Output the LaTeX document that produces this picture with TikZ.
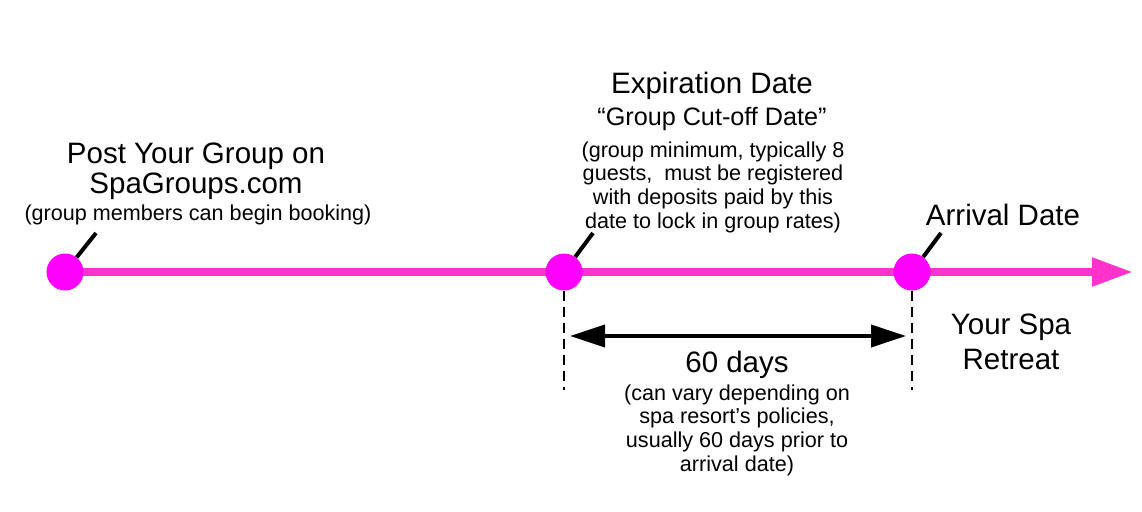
\documentclass[tikz,border=0pt]{standalone}
\usepackage{fontspec}
\setmainfont{Liberation Sans}
\usetikzlibrary{arrows.meta}
\definecolor{linepink}{HTML}{FF33CC}
\definecolor{dotpink}{HTML}{FF00FF}

\begin{document}
\begin{tikzpicture}[x=1pt,y=-1pt,
  dot/.style={circle,fill=dotpink,minimum size=37pt,inner sep=0pt},
  big/.style={font=\fontsize{29.5}{30}\selectfont,align=center,anchor=base},
  mid/.style={font=\fontsize{25.2}{27}\selectfont,align=center,anchor=base},
  small/.style={font=\fontsize{21.6}{23.6}\selectfont,align=center,anchor=base},
  leader/.style={line width=4pt},
  guide/.style={line width=1.5pt,dash pattern=on 10pt off 6pt}]
\useasboundingbox (0,0) rectangle (1142,511);

% timeline
\coordinate (start) at (65,272);
\coordinate (tip) at (1133,272);
\draw[linepink,line width=8pt,-{Triangle[length=41pt,width=27pt]}] (start) -- (tip);

% dates on the timeline
\node[dot] (d1) at (65,272) {};
\node[dot] (d2) at (564,272) {};
\node[dot] (d3) at (912,272) {};

% leaders to the labels
\coordinate (t1) at (96,233);
\coordinate (t2) at (593,233);
\coordinate (t3) at (941,233);
\draw[leader] (d1) -- (t1);
\draw[leader] (d2) -- (t2);
\draw[leader] (d3) -- (t3);

% 60 days span
\coordinate (g2) at (564,390);
\coordinate (g3) at (912,390);
\draw[guide] (d2) -- (g2);
\draw[guide] (d3) -- (g3);
\coordinate (a2) at (570,336);
\coordinate (a3) at (906,336);
\draw[line width=4pt,{Triangle[length=35pt,width=22pt]}-{Triangle[length=35pt,width=22pt]}] (a2) -- (a3);

% labels (base = last line)
\node[big] (post) at (196,193) {Post Your Group on\\SpaGroups.com};
\node[small] (postnote) at (198,220) {(group members can begin booking)};
\node[big] (expiry) at (712,93) {Expiration Date};
\node[mid] (cutoff) at (712,125) {“Group Cut-off Date”};
\node[small] (expnote) at (713,228) {(group minimum, typically 8\\guests,\ \ must be registered\\with deposits paid by this\\date to lock in group rates)};
\node[big] (arrival) at (1003,225) {Arrival Date};
\node[big] (retreat) at (1011,369) {Your Spa\\[5pt]Retreat};
\node[big] (days) at (737,372) {60 days};
\node[small] (daysnote) at (737,471) {(can vary depending on\\spa resort’s policies,\\usually 60 days prior to\\arrival date)};
\end{tikzpicture}
\end{document}
